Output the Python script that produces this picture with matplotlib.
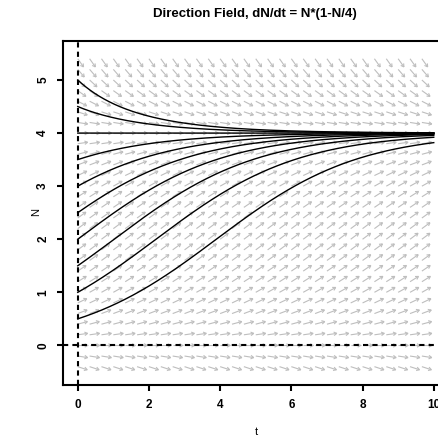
import numpy as np
import matplotlib
matplotlib.use("Agg")
import matplotlib.pyplot as plt
from matplotlib.collections import LineCollection

# starting values of N for the solution curves
start_values = [0.5, 1.0, 1.5, 2.0, 2.5, 3.0, 3.5, 4.0, 4.5, 5.0]
capacity = 4.0
rate = 0.5          # the one from 0.5 only gets to ~3.8 at t=10
x_ticks = [0, 2, 4, 6, 8, 10]
y_ticks = [0, 1, 2, 3, 4, 5]
t_grid = np.arange(30) / 3.0                 # arrow tails along t
n_grid = np.round(np.arange(-0.4, 5.41, 0.2), 2)  # arrow tails along N


def deriv(n):
    return rate * n * (1 - n / capacity)


def solve(n0, t_end=10.0, steps=2000):
    # plain RK4 on the logistic equation
    h = t_end / steps
    ts = [0.0]
    ns = [n0]
    n = n0
    for i in range(steps):
        k1 = deriv(n)
        k2 = deriv(n + h * k1 / 2)
        k3 = deriv(n + h * k2 / 2)
        k4 = deriv(n + h * k3)
        n = n + h * (k1 + 2 * k2 + 2 * k3 + k4) / 6
        ts.append((i + 1) * h)
        ns.append(n)
    return ts, ns


plt.rcParams['font.family'] = ['Liberation Sans', 'DejaVu Sans']

fig = plt.figure(figsize=(4.39, 4.38), dpi=100)
ax = fig.add_axes([63.5 / 439, 1 - 384.7 / 438, (448 - 63.5) / 439, (384.7 - 40.7) / 438])
ax.set_xlim(-0.4, 10.4)
ax.set_ylim(-0.74, 5.74)

# pixels per data unit, so the arrows keep one size on screen
px_t = 35.6
px_n = 53.1
arrow_px = 10.0
head_px = 3.5
head_ang = np.radians(30)

segs = []
for t in t_grid:
    for n in n_grid:
        ang = np.arctan2(px_n * deriv(n), px_t)
        hx = arrow_px * np.cos(ang)
        hy = arrow_px * np.sin(ang)
        tip = (t + hx / px_t, n + hy / px_n)
        segs.append([(t, n), tip])
        for s in (1, -1):
            a = ang + np.pi + s * head_ang
            segs.append([tip, (tip[0] + head_px * np.cos(a) / px_t,
                               tip[1] + head_px * np.sin(a) / px_n)])

ax.add_collection(LineCollection(segs, colors="#bebebe", linewidths=0.8, zorder=1))

for n0 in start_values:
    ts, ns = solve(n0)
    ax.plot(ts, ns, color="black", lw=1.0, zorder=3)

ax.plot([0, 0], [-0.74, 5.74], color="black", lw=1.5, linestyle=(0, (2.5, 2)), zorder=4)
ax.plot([-0.4, 10.4], [0, 0], color="black", lw=1.5, linestyle=(0, (2.5, 2)), zorder=4)

for side in ["left", "bottom", "top", "right"]:
    ax.spines[side].set_linewidth(1.5)

ax.set_xticks(x_ticks)
ax.set_yticks(y_ticks)
ax.tick_params(direction="out", length=4.3, width=1.5, labelsize=8.5)
ax.tick_params(axis="x", pad=6)
ax.tick_params(axis="y", pad=6)
for lab in ax.get_xticklabels():
    lab.set_fontweight("bold")
for lab in ax.get_yticklabels():
    lab.set_fontweight("bold")
    lab.set_rotation(90)
    lab.set_va("center")

fig.text(256 / 439, 1 - 432 / 438, "t", ha="center", va="center", fontsize=8)
fig.text(36 / 439, 1 - 212 / 438, "N", ha="center", va="center", fontsize=8, rotation=90)
fig.text(255 / 439, 1 - 14 / 438, "Direction Field, dN/dt = N*(1-N/4)",
         ha="center", va="center", fontsize=9.5, fontweight="bold")

fig.savefig("out.png", dpi=100)
